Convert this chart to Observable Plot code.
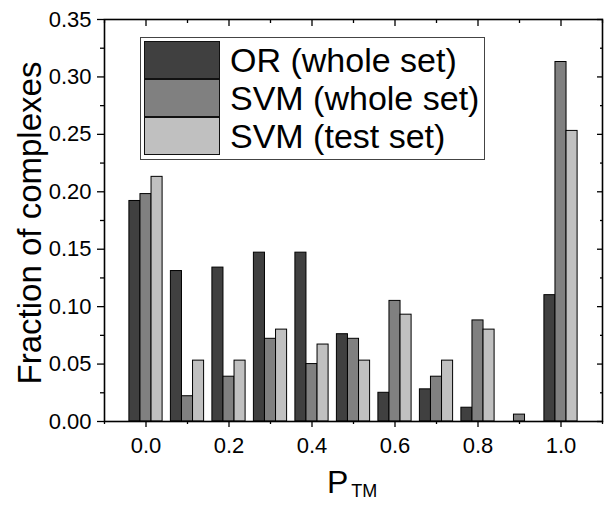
<!DOCTYPE html>
<html><head><meta charset="utf-8">
<script src="https://cdn.jsdelivr.net/npm/d3@7"></script>
<script src="https://cdn.jsdelivr.net/npm/@observablehq/plot@0.6"></script>
<style>
body{margin:0;background:#fff;}
#chart{position:relative;width:605px;height:506px;font-family:"Liberation Sans",Arial,sans-serif;}
#legend{position:absolute;left:140px;top:37px;width:343px;height:121px;border:1.2px solid #444;background:#fff;}
.row{position:absolute;left:0;height:38px;}
.sw{position:absolute;left:3px;width:74px;height:36px;border:1.2px solid #111;}
.lt{position:absolute;left:89px;font-size:34px;line-height:38px;white-space:nowrap;color:#000;}
</style></head><body><div id="chart"></div>
<script>
// P_TM bin centres
const bins = [0.0, 0.1, 0.2, 0.3, 0.4, 0.5, 0.6, 0.7, 0.8, 0.9, 1.0];
// Fraction of complexes per series
const orWhole  = [0.192, 0.131, 0.134, 0.147, 0.147, 0.076, 0.025, 0.028, 0.012, 0.000, 0.110];
const svmWhole = [0.198, 0.022, 0.039, 0.072, 0.050, 0.072, 0.105, 0.039, 0.088, 0.006, 0.313];
const svmTest  = [0.213, 0.053, 0.053, 0.080, 0.067, 0.053, 0.093, 0.053, 0.080, 0.000, 0.253];
const seriesNames = ["OR (whole set)", "SVM (whole set)", "SVM (test set)"];
const seriesColors = ["#404040", "#808080", "#c0c0c0"];
const xTicks = [0.0, 0.2, 0.4, 0.6, 0.8, 1.0];
const xMinor = [-0.1, 0.1, 0.3, 0.5, 0.7, 0.9, 1.1];
const yTicks = [0.00, 0.05, 0.10, 0.15, 0.20, 0.25, 0.30, 0.35];
const yMinor = [0.025, 0.075, 0.125, 0.175, 0.225, 0.275, 0.325];

const seriesValues = [orWhole, svmWhole, svmTest];
const binStep = 0.1, groupFrac = 0.8, nSeries = seriesNames.length;
const barW = binStep * groupFrac / nSeries;
const data = bins.flatMap((p, i) => seriesValues.map((vals, k) => ({
  p, k, v: vals[i], series: seriesNames[k]
}))).filter(d => d.v > 0);

const font = "Liberation Sans, Arial, sans-serif";
const chart = Plot.plot({
  width: 605, height: 506,
  marginLeft: 104, marginRight: 3, marginTop: 19, marginBottom: 85,
  style: {fontFamily: font, background: "#fff", color: "#000"},
  x: {domain: [-0.1, 1.1]},
  y: {domain: [0, 0.35]},
  color: {domain: seriesNames, range: seriesColors},
  marks: [
    Plot.rectY(data, {
      x1: d => d.p - binStep * groupFrac / 2 + d.k * barW,
      x2: d => d.p - binStep * groupFrac / 2 + (d.k + 1) * barW,
      y1: 0, y2: "v", fill: "series", stroke: "#000", strokeWidth: 1
    }),
    Plot.axisY(yTicks, {tickSize: 7, tickPadding: 6, tickFormat: d3.format(".2f"), fontSize: 22, label: null, strokeWidth: 1.3}),
    Plot.axisY(yMinor, {tickSize: 4, tickFormat: () => "", label: null, strokeWidth: 1.3}),
    Plot.axisY(yTicks, {anchor: "right", tickSize: 6, dx: -6, tickFormat: () => "", label: null, strokeWidth: 1.3}),
    Plot.axisY(yMinor, {anchor: "right", tickSize: 3, dx: -3, tickFormat: () => "", label: null, strokeWidth: 1.3}),
    Plot.axisX(xTicks, {tickSize: 6, tickPadding: 10, tickFormat: d3.format(".1f"), fontSize: 22, label: null, strokeWidth: 1.3}),
    Plot.axisX(xMinor, {tickSize: 3, tickFormat: () => "", label: null, strokeWidth: 1.3}),
    Plot.axisX(xTicks, {anchor: "top", tickSize: 6, dy: 6, tickFormat: () => "", label: null, strokeWidth: 1.3}),
    Plot.axisX(xMinor, {anchor: "top", tickSize: 3, dy: 3, tickFormat: () => "", label: null, strokeWidth: 1.3}),
    Plot.frame({stroke: "#000", strokeWidth: 1.6})
  ]
});

const host = document.getElementById("chart");
host.appendChild(chart);
const svg = d3.select(chart);

// y-axis title
svg.append("text")
  .attr("transform", "translate(41,223) rotate(-90)")
  .attr("text-anchor", "middle")
  .attr("font-family", font).attr("font-size", 33).attr("fill", "#000")
  .text("Fraction of complexes");

// x-axis title P_TM
const xt = svg.append("text")
  .attr("x", 327).attr("y", 493)
  .attr("text-anchor", "start")
  .attr("font-family", font).attr("font-size", 32).attr("fill", "#000");
xt.append("tspan").text("P");
xt.append("tspan").attr("font-size", 18).attr("dy", 4).attr("dx", 3).text("TM");

// legend
const leg = document.createElement("div");
leg.id = "legend";
seriesNames.forEach((name, k) => {
  const row = document.createElement("div");
  row.className = "row";
  row.style.top = (3 + k * 38) + "px";
  row.style.width = "100%";
  const sw = document.createElement("div");
  sw.className = "sw";
  sw.style.background = seriesColors[k];
  const lt = document.createElement("div");
  lt.className = "lt";
  lt.textContent = name;
  row.appendChild(sw); row.appendChild(lt);
  leg.appendChild(row);
});
host.appendChild(leg);
</script>
</body></html>
